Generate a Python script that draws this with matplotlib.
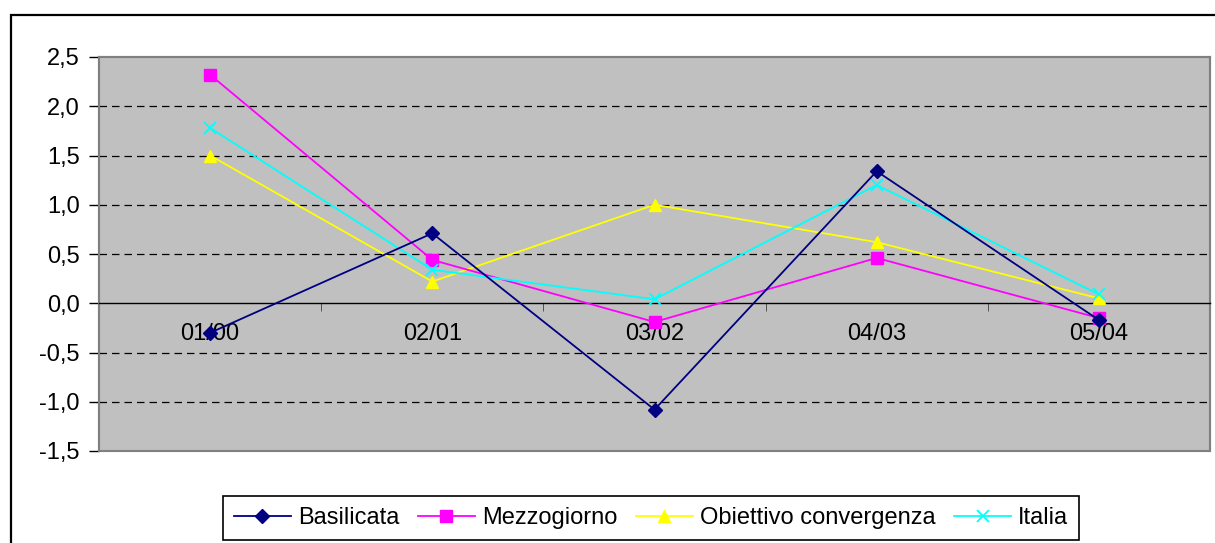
import matplotlib
matplotlib.use('Agg')
import matplotlib.pyplot as plt
from matplotlib.patches import Rectangle
from matplotlib.ticker import FixedLocator, FuncFormatter
import numpy as np

plt.rcParams['font.family'] = ['Liberation Sans', 'DejaVu Sans']

categories = ['01/00', '02/01', '03/02', '04/03', '05/04']
basilicata = [-0.30, 0.71, -1.08, 1.34, -0.17]
mezzogiorno = [2.32, 0.44, -0.19, 0.46, -0.15]
obiettivo = [1.50, 0.22, 1.00, 0.62, 0.05]
italia = [1.78, 0.34, 0.04, 1.20, 0.09]

fig = plt.figure(figsize=[12.15, 5.43], dpi=100)
fig.patch.set_facecolor('white')

# outer chart frame (cut off at right/bottom in the original)
fig.patches.append(Rectangle((11/1215, -0.05), 1.2, 1 - 15/543 + 0.05,
                             transform=fig.transFigure, fill=False,
                             edgecolor='black', linewidth=1.6))

ax = fig.add_axes([99/1215, 1 - 451/543, 1111/1215, 394/543])
ax.set_facecolor('#C0C0C0')

x = np.arange(len(categories))
ax.set_xlim(-0.5, len(categories) - 0.5)
ax.set_ylim(-1.5, 2.5)

# dashed gridlines
for yv in [-1.0, -0.5, 0.5, 1.0, 1.5, 2.0]:
    ax.axhline(yv, color='black', linestyle=(0, (6, 4)), linewidth=0.9, zorder=1)

lw = 1.3
ax.plot(x, basilicata, color='#000080', marker='D', markersize=7, linewidth=lw,
        label='Basilicata', zorder=5)
ax.plot(x, mezzogiorno, color='#FF00FF', marker='s', markersize=8, linewidth=lw,
        label='Mezzogiorno', zorder=4)
ax.plot(x, obiettivo, color='#FFFF00', marker='^', markersize=9, linewidth=lw,
        label='Obiettivo convergenza', zorder=3)
ax.plot(x, italia, color='#00FFFF', marker='x', markersize=9, markeredgewidth=1.3,
        linewidth=lw, label='Italia', zorder=4)

# spines
for s in ['left', 'top', 'right']:
    ax.spines[s].set_color('#808080')
    ax.spines[s].set_linewidth(1.5)
ax.spines['bottom'].set_position(('data', 0))
ax.spines['bottom'].set_color('black')
ax.spines['bottom'].set_linewidth(1.0)
ax.add_patch(Rectangle((0, 0), 1, 1, transform=ax.transAxes, fill=False,
                       edgecolor='#808080', linewidth=1.5, zorder=0.5,
                       clip_on=False))

ax.yaxis.set_major_locator(FixedLocator(np.arange(-1.5, 2.51, 0.5)))
ax.yaxis.set_major_formatter(FuncFormatter(lambda v, p: ('%.1f' % v).replace('.', ',')))
ax.tick_params(axis='y', direction='out', length=7, width=1, color='black',
               labelsize=17, pad=7)

ax.set_xticks(x)
ax.set_xticklabels(categories)
ax.set_xticks(x[:-1] + 0.5, minor=True)
ax.tick_params(axis='x', which='major', length=0, labelsize=17, pad=14)
ax.tick_params(axis='x', which='minor', direction='out', length=6, color='#404040')

leg = ax.legend(loc='center', bbox_to_anchor=(651/1215, 1 - 518/543),
                bbox_transform=fig.transFigure, ncol=4, fontsize=17,
                frameon=True, fancybox=False, framealpha=1, edgecolor='black',
                handlelength=2.4, handletextpad=0.3, columnspacing=0.8,
                borderpad=0.45)
leg.get_frame().set_linewidth(1.2)

fig.savefig('out.png', dpi=100)
